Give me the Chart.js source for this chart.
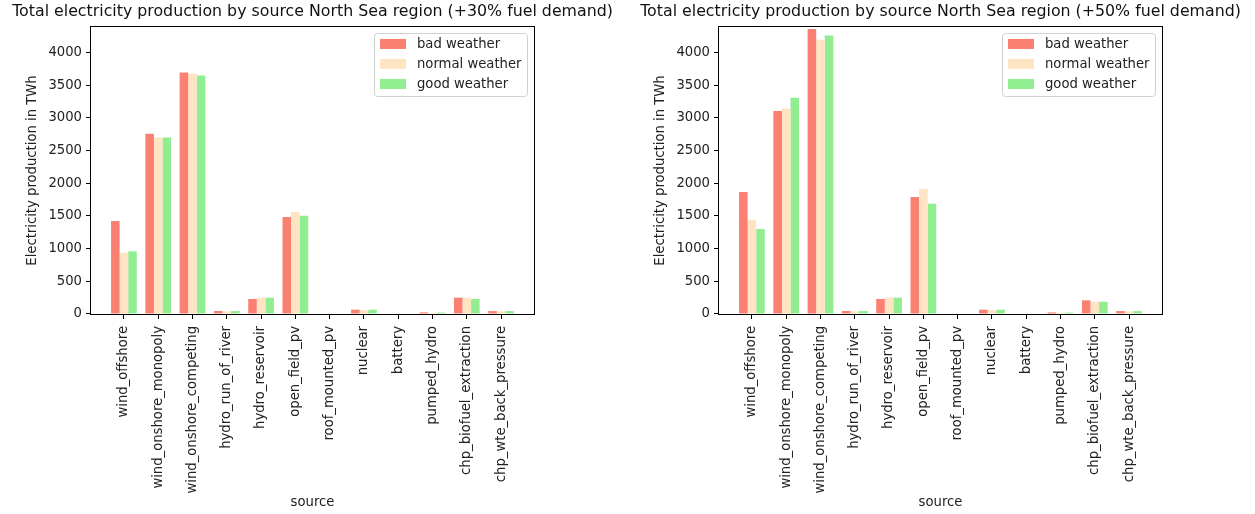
<!DOCTYPE html>
<html>
<head>
<meta charset="utf-8">
<script src="https://cdn.jsdelivr.net/npm/chart.js@4.4.0/dist/chart.umd.min.js"></script>
<style>
  html, body { margin: 0; padding: 0; background: #fff; }
  body { width: 1255px; height: 514px; position: relative; overflow: hidden; }
  canvas { position: absolute; top: 0; }
  #left { left: 0; }
  #right { left: 628px; }
</style>
</head>
<body>
<canvas id="left" width="625" height="514"></canvas>
<canvas id="right" width="625" height="514"></canvas>
<script>
const sources = ["wind_offshore", "wind_onshore_monopoly", "wind_onshore_competing",
  "hydro_run_of_river", "hydro_reservoir", "open_field_pv", "roof_mounted_pv",
  "nuclear", "battery", "pumped_hydro", "chp_biofuel_extraction", "chp_wte_back_pressure"];
const weather = ["bad weather", "normal weather", "good weather"];
const colors = ["#fa8072", "#ffe4c4", "#90ee90"];

// +30% fuel demand
const bad30 = [1421, 2756, 3694, 46, 229, 1483, 0, 66, 0, 25, 250, 45];
const normal30 = [937, 2700, 3673, 40, 250, 1559, 0, 60, 0, 18, 250, 40];
const good30 = [958, 2700, 3648, 45, 250, 1503, 0, 66, 0, 22, 229, 45];

// +50% fuel demand
const bad50 = [1865, 3103, 4357, 46, 229, 1789, 0, 66, 0, 25, 209, 45];
const normal50 = [1437, 3143, 4193, 40, 250, 1911, 0, 60, 0, 18, 188, 40];
const good50 = [1300, 3307, 4259, 45, 250, 1686, 0, 66, 0, 22, 188, 45];

const yTicks = [0, 500, 1000, 1500, 2000, 2500, 3000, 3500, 4000];

Chart.defaults.font.family = "DejaVu Sans";
Chart.defaults.font.size = 13.2;
Chart.defaults.color = "#222";

// matplotlib-like box around the axes + legend inside the plot
const framePlugin = {
  id: "frame",
  afterDraw(chart) {
    const a = chart.chartArea, ctx = chart.ctx;
    ctx.save();
    ctx.strokeStyle = "#000";
    ctx.lineWidth = 1;
    ctx.strokeRect(Math.round(a.left) - 0.5, Math.round(a.top) - 0.5,
      Math.round(a.right - a.left) + 1, Math.round(a.bottom - a.top) + 1);

    // legend
    const w = 153, h = 63;
    const x = a.right - 7 - w, y = a.top + 6;
    ctx.beginPath();
    ctx.roundRect(x + 0.5, y + 0.5, w, h, 3);
    ctx.fillStyle = "rgba(255,255,255,0.8)";
    ctx.fill();
    ctx.strokeStyle = "#d0d0d0";
    ctx.stroke();
    ctx.font = "13.2px 'DejaVu Sans'";
    ctx.textBaseline = "middle";
    chart.data.datasets.forEach((ds, i) => {
      const cy = y + 11 + i * 20;
      ctx.fillStyle = ds.backgroundColor;
      ctx.fillRect(x + 6, cy - 5, 26, 10);
      ctx.fillStyle = "#222";
      ctx.fillText(ds.label, x + 43, cy + 1);
    });
    ctx.restore();
  }
};

function makeChart(id, titleText, series) {
  const ctx = document.getElementById(id).getContext("2d");
  return new Chart(ctx, {
    type: "bar",
    data: {
      datasets: series.map((vals, k) => ({
        label: weather[k],
        data: vals.map((v, i) => ({ x: i, y: v })),
        backgroundColor: colors[k],
        borderWidth: 0,
        categoryPercentage: 0.75,
        barPercentage: 1.0
      }))
    },
    options: {
      responsive: false,
      animation: false,
      layout: { padding: 0 },
      plugins: {
        legend: { display: false },
        tooltip: { enabled: false },
        title: {
          display: true,
          text: titleText,
          color: "#111",
          font: { size: 15.8, weight: "normal" },
          padding: { top: 2, bottom: 6 }
        }
      },
      scales: {
        x: {
          type: "linear",
          offset: false,
          min: -0.96,
          max: 11.96,
          afterFit(scale) { scale.height = 200; },
          afterBuildTicks(scale) { scale.ticks = sources.map((s, i) => ({ value: i })); },
          border: { display: false },
          grid: { drawOnChartArea: false, tickLength: 5, color: "#000", offset: false },
          ticks: {
            autoSkip: false,
            minRotation: 90,
            maxRotation: 90,
            padding: 7,
            includeBounds: false,
            callback: (v) => sources[v] || ""
          },
          title: { display: true, text: "source", padding: { top: 0, bottom: 4 } }
        },
        y: {
          min: 0,
          max: 4390,
          afterFit(scale) { scale.width = 91; },
          afterBuildTicks(scale) { scale.ticks = yTicks.map(v => ({ value: v })); },
          border: { display: false },
          grid: { drawOnChartArea: false, tickLength: 5, color: "#000" },
          ticks: { padding: 4, includeBounds: false, callback: (v) => String(v) },
          title: {
            display: true,
            text: "Electricity production in TWh",
            padding: { top: 25, bottom: 0 }
          }
        },
        // empty spacer on the right so the title centres over the plot
        yspace: {
          position: "right",
          display: true,
          afterFit(scale) { scale.width = 91; },
          border: { display: false },
          grid: { display: false },
          ticks: { display: false }
        }
      }
    },
    plugins: [framePlugin]
  });
}

makeChart("left", "Total electricity production by source North Sea region (+30% fuel demand)",
  [bad30, normal30, good30]);
makeChart("right", "Total electricity production by source North Sea region (+50% fuel demand)",
  [bad50, normal50, good50]);
</script>
</body>
</html>
